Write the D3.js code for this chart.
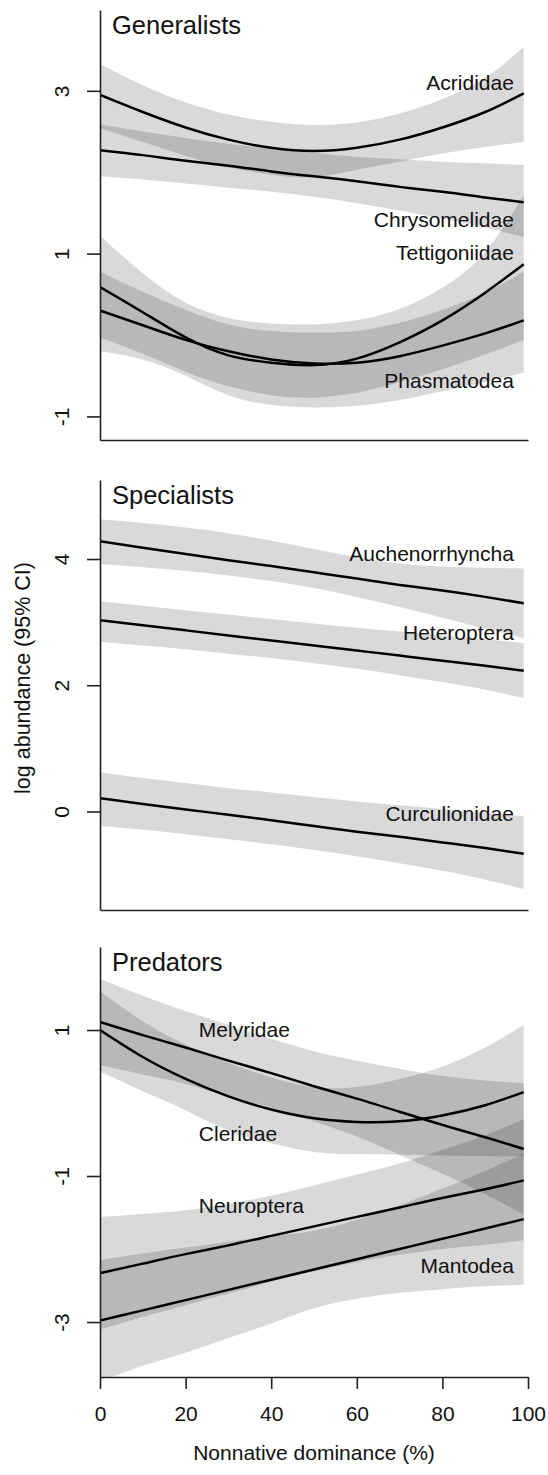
<!DOCTYPE html>
<html>
<head>
<meta charset="utf-8">
<script src="https://cdn.jsdelivr.net/npm/d3@7"></script>
<style>
  body { margin: 0; background: #fff; }
  svg { display: block; font-family: "Liberation Sans", Arial, sans-serif; }
</style>
</head>
<body>
<div id="chart"></div>
<script>
// x positions where the fitted curves were read (nonnative dominance, %)
var xs = [0, 10, 20, 30, 40, 50, 60, 70, 80, 90, 99];
var xTicks = [0, 20, 40, 60, 80, 100];

// Generalists
var acrididaeFit = [2.95, 2.74, 2.55, 2.40, 2.30, 2.26, 2.30, 2.40, 2.55, 2.74, 2.97];
var acrididaeHi  = [3.33, 3.07, 2.86, 2.71, 2.62, 2.58, 2.61, 2.72, 2.90, 3.16, 3.54];
var acrididaeLo  = [2.54, 2.37, 2.20, 2.06, 1.97, 1.94, 2.03, 2.13, 2.23, 2.31, 2.37];
var chrysomelidaeFit = [2.27, 2.21, 2.14, 2.08, 2.01, 1.95, 1.89, 1.82, 1.76, 1.69, 1.63];
var chrysomelidaeHi  = [2.59, 2.50, 2.42, 2.35, 2.29, 2.24, 2.19, 2.16, 2.13, 2.11, 2.09];
var chrysomelidaeLo  = [1.95, 1.91, 1.86, 1.81, 1.76, 1.70, 1.62, 1.53, 1.43, 1.32, 1.20];
var tettigoniidaeFit = [0.59, 0.28, -0.03, -0.25, -0.34, -0.37, -0.29, -0.09, 0.18, 0.52, 0.87];
var tettigoniidaeHi  = [1.22, 0.76, 0.40, 0.21, 0.14, 0.13, 0.18, 0.32, 0.58, 1.02, 1.72];
var tettigoniidaeLo  = [-0.03, -0.23, -0.45, -0.63, -0.74, -0.77, -0.71, -0.58, -0.42, -0.24, -0.06];
var phasmatodeaFit = [0.30, 0.12, -0.06, -0.20, -0.30, -0.35, -0.34, -0.26, -0.13, 0.02, 0.18];
var phasmatodeaHi  = [0.78, 0.53, 0.31, 0.13, 0.05, 0.03, 0.05, 0.15, 0.31, 0.52, 0.78];
var phasmatodeaLo  = [-0.20, -0.30, -0.50, -0.74, -0.86, -0.89, -0.87, -0.80, -0.69, -0.58, -0.46];

// Specialists
var auchenorrhynchaFit = [4.28, 4.18, 4.08, 3.98, 3.89, 3.79, 3.69, 3.59, 3.50, 3.40, 3.30];
var auchenorrhynchaHi  = [4.63, 4.57, 4.50, 4.41, 4.29, 4.16, 4.03, 3.93, 3.88, 3.86, 3.85];
var auchenorrhynchaLo  = [3.92, 3.87, 3.81, 3.74, 3.65, 3.54, 3.40, 3.24, 3.07, 2.90, 2.75];
var heteropteraFit = [3.03, 2.95, 2.87, 2.79, 2.71, 2.63, 2.55, 2.47, 2.39, 2.31, 2.23];
var heteropteraHi  = [3.33, 3.26, 3.19, 3.12, 3.05, 2.98, 2.91, 2.85, 2.79, 2.73, 2.67];
var heteropteraLo  = [2.69, 2.63, 2.57, 2.50, 2.43, 2.35, 2.26, 2.16, 2.05, 1.93, 1.80];
var curculionidaeFit = [0.21, 0.12, 0.03, -0.05, -0.14, -0.23, -0.32, -0.40, -0.49, -0.58, -0.67];
var curculionidaeHi  = [0.62, 0.53, 0.45, 0.37, 0.30, 0.23, 0.16, 0.10, 0.04, -0.02, -0.07];
var curculionidaeLo  = [-0.23, -0.29, -0.36, -0.44, -0.52, -0.61, -0.71, -0.82, -0.94, -1.08, -1.23];

// Predators
var melyridaeFit = [1.11, 0.93, 0.76, 0.58, 0.41, 0.23, 0.06, -0.12, -0.30, -0.47, -0.63];
var melyridaeHi  = [1.70, 1.47, 1.26, 1.07, 0.88, 0.71, 0.58, 0.47, 0.37, 0.31, 0.27];
var melyridaeLo  = [0.52, 0.39, 0.26, 0.09, -0.06, -0.25, -0.46, -0.71, -0.97, -1.25, -1.53];
var cleridaeFit = [1.00, 0.63, 0.33, 0.09, -0.09, -0.21, -0.26, -0.25, -0.17, -0.03, 0.15];
var cleridaeHi  = [1.53, 1.12, 0.80, 0.55, 0.35, 0.22, 0.22, 0.33, 0.50, 0.76, 1.07];
var cleridaeLo  = [0.43, 0.16, -0.10, -0.38, -0.55, -0.67, -0.70, -0.71, -0.72, -0.73, -0.73];
var neuropteraFit = [-2.33, -2.20, -2.07, -1.95, -1.82, -1.69, -1.56, -1.43, -1.30, -1.18, -1.06];
var neuropteraHi  = [-1.56, -1.52, -1.47, -1.38, -1.27, -1.13, -0.98, -0.83, -0.64, -0.44, -0.22];
var neuropteraLo  = [-3.10, -2.93, -2.77, -2.61, -2.45, -2.30, -2.18, -2.08, -2.00, -1.94, -1.88];
var mantodeaFit = [-2.98, -2.84, -2.70, -2.56, -2.42, -2.28, -2.14, -2.00, -1.86, -1.72, -1.59];
var mantodeaHi  = [-2.15, -2.06, -1.98, -1.90, -1.82, -1.75, -1.60, -1.40, -1.17, -0.93, -0.69];
var mantodeaLo  = [-3.81, -3.60, -3.42, -3.22, -3.02, -2.81, -2.68, -2.60, -2.55, -2.51, -2.49];

function series(name, fit, lo, hi, lx, ly, anchor) {
  return {
    name: name,
    points: xs.map(function(x, i) { return { x: x, fit: fit[i], lo: lo[i], hi: hi[i] }; }),
    label: { x: lx, y: ly, anchor: anchor }
  };
}

var panels = [
  { title: "Generalists", top: 10, yDomain: [-1.29, 3.993], yTicks: [-1, 1, 3], series: [
    series("Acrididae", acrididaeFit, acrididaeLo, acrididaeHi, 96.7, 3.01, "end"),
    series("Chrysomelidae", chrysomelidaeFit, chrysomelidaeLo, chrysomelidaeHi, 96.7, 1.333, "end"),
    series("Tettigoniidae", tettigoniidaeFit, tettigoniidaeLo, tettigoniidaeHi, 96.7, 0.922, "end"),
    series("Phasmatodea", phasmatodeaFit, phasmatodeaLo, phasmatodeaHi, 96.7, -0.653, "end")
  ]},
  { title: "Specialists", top: 480, yDomain: [-1.561, 5.252], yTicks: [0, 2, 4], series: [
    series("Auchenorrhyncha", auchenorrhynchaFit, auchenorrhynchaLo, auchenorrhynchaHi, 96.7, 3.962, "end"),
    series("Heteroptera", heteropteraFit, heteropteraLo, heteropteraHi, 96.7, 2.710, "end"),
    series("Curculionidae", curculionidaeFit, curculionidaeLo, curculionidaeHi, 96.7, -0.158, "end")
  ]},
  { title: "Predators", top: 947, yDomain: [-3.753, 2.137], yTicks: [-3, -1, 1], xAxis: true, series: [
    series("Melyridae", melyridaeFit, melyridaeLo, melyridaeHi, 23.1, 0.90, "start"),
    series("Cleridae", cleridaeFit, cleridaeLo, cleridaeHi, 23.1, -0.516, "start"),
    series("Neuroptera", neuropteraFit, neuropteraLo, neuropteraHi, 23.1, -1.503, "start"),
    series("Mantodea", mantodeaFit, mantodeaLo, mantodeaHi, 96.7, -2.333, "end")
  ]}
];

var width = 548, height = 1475;
var left = 100, right = 528, panelH = 430;

var svg = d3.select("#chart").append("svg")
  .attr("width", width)
  .attr("height", height);

var x = d3.scaleLinear().domain([0, 100]).range([left, right]);

panels.forEach(function(p, pi) {
  var y = d3.scaleLinear().domain(p.yDomain).range([p.top + panelH, p.top]);

  svg.append("clipPath").attr("id", "clip" + pi)
    .append("rect")
    .attr("x", left).attr("y", p.top)
    .attr("width", right - left).attr("height", panelH);

  var area = d3.area()
    .x(function(d) { return x(d.x); })
    .y0(function(d) { return y(d.lo); })
    .y1(function(d) { return y(d.hi); })
    .curve(d3.curveNatural);

  var line = d3.line()
    .x(function(d) { return x(d.x); })
    .y(function(d) { return y(d.fit); })
    .curve(d3.curveNatural);

  var g = svg.append("g").attr("clip-path", "url(#clip" + pi + ")");

  // confidence bands, semi transparent so overlaps get darker
  g.selectAll("path.band")
    .data(p.series)
    .enter().append("path")
    .attr("class", "band")
    .attr("d", function(s) { return area(s.points); })
    .attr("fill", "#000")
    .attr("fill-opacity", 0.15);

  g.selectAll("path.fit")
    .data(p.series)
    .enter().append("path")
    .attr("class", "fit")
    .attr("d", function(s) { return line(s.points); })
    .attr("fill", "none")
    .attr("stroke", "#000")
    .attr("stroke-width", 2.5);

  svg.selectAll("text.lab" + pi)
    .data(p.series)
    .enter().append("text")
    .attr("class", "lab" + pi)
    .attr("x", function(s) { return x(s.label.x); })
    .attr("y", function(s) { return y(s.label.y); })
    .attr("text-anchor", function(s) { return s.label.anchor; })
    .attr("font-size", 21)
    .attr("fill", "#111")
    .text(function(s) { return s.name; });

  svg.append("text")
    .attr("x", 112)
    .attr("y", p.top + 24)
    .attr("font-size", 25.5)
    .attr("fill", "#111")
    .text(p.title);

  // y axis
  var ya = svg.append("g")
    .attr("transform", "translate(" + left + ",0)")
    .call(d3.axisLeft(y).tickValues(p.yTicks).tickSize(13).tickSizeOuter(0)
      .tickFormat(function(d) { return String(d); }));
  ya.selectAll("text")
    .attr("x", null).attr("dy", null)
    .attr("transform", "translate(-31,0) rotate(-90)")
    .attr("text-anchor", "middle")
    .attr("font-size", 21)
    .attr("font-family", "Liberation Sans, Arial, sans-serif")
    .attr("fill", "#111");

  // x axis
  var xa = svg.append("g")
    .attr("transform", "translate(0," + (p.top + panelH) + ")")
    .call(d3.axisBottom(x).tickValues(p.xAxis ? xTicks : []).tickSize(12).tickSizeOuter(0));
  xa.selectAll("text")
    .attr("y", 44).attr("dy", null)
    .attr("font-size", 21)
    .attr("font-family", "Liberation Sans, Arial, sans-serif")
    .attr("fill", "#111");

  [ya, xa].forEach(function(a) {
    a.selectAll(".domain, line").attr("stroke", "#222").attr("stroke-width", 1.6);
  });
});

svg.append("text")
  .attr("transform", "translate(30,678) rotate(-90)")
  .attr("text-anchor", "middle")
  .attr("font-size", 21.5)
  .attr("fill", "#111")
  .text("log abundance (95% CI)");

svg.append("text")
  .attr("x", (left + right) / 2)
  .attr("y", 1460)
  .attr("text-anchor", "middle")
  .attr("font-size", 21)
  .attr("fill", "#111")
  .text("Nonnative dominance (%)");
</script>
</body>
</html>
